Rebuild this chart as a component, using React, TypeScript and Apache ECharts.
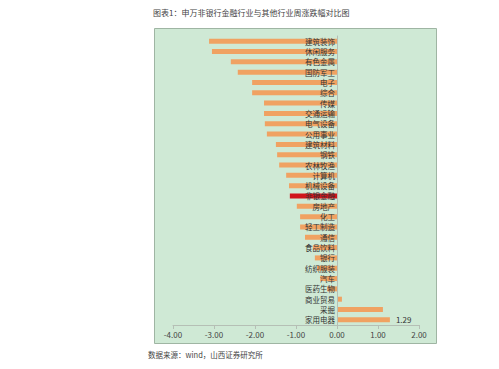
import React, { useEffect, useRef } from "react";
import * as echarts from "echarts";

const categories = [
  "建筑装饰", "休闲服务", "有色金属", "国防军工", "电子", "综合", "传媒", "交通运输",
  "电气设备", "公用事业", "建筑材料", "钢铁", "农林牧渔", "计算机", "机械设备", "非银金融",
  "房地产", "化工", "轻工制造", "通信", "食品饮料", "银行", "纺织服装", "汽车",
  "医药生物", "商业贸易", "采掘", "家用电器",
];
const values = [
  -3.12, -3.05, -2.59, -2.42, -2.07, -2.07, -1.78, -1.78,
  -1.76, -1.71, -1.49, -1.46, -1.41, -1.24, -1.17, -1.15,
  -0.98, -0.9, -0.9, -0.78, -0.59, -0.54, -0.49, -0.41,
  -0.24, 0.12, 1.12, 1.29,
];
const highlight = "非银金融";
const labeledCategory = "家用电器";
const titleText = "图表1：申万非银行金融行业与其他行业周涨跌幅对比图";
const sourceText = "数据来源：wind，山西证券研究所";

export default function App() {
  const ref = useRef<HTMLDivElement>(null);
  useEffect(() => {
    if (!ref.current) return;
    const chart = echarts.init(ref.current, undefined, { renderer: "svg" });
    const font = "'Noto Sans CJK SC', sans-serif";
    chart.setOption({
      animation: false,
      backgroundColor: "#ffffff",
      textStyle: { fontFamily: font },
      graphic: [
        {
          type: "rect",
          z: -10,
          shape: { x: 154.5, y: 28.5, width: 282, height: 315 },
          style: { fill: "#cfe9d5", stroke: "#9fb5a3", lineWidth: 1 },
        },
        {
          type: "text",
          x: 153,
          y: 8,
          style: { text: titleText, fill: "#444", font: `8px ${font}` },
        },
        {
          type: "text",
          x: 148,
          y: 351,
          style: { text: sourceText, fill: "#444", font: `7.5px ${font}` },
        },
      ],
      grid: { left: 173, width: 246, top: 36, height: 289, containLabel: false },
      xAxis: {
        type: "value",
        min: -4,
        max: 2,
        interval: 1,
        axisLine: { show: true, lineStyle: { color: "#b5bfb5" } },
        axisTick: { show: true, length: 4, lineStyle: { color: "#b5bfb5" } },
        splitLine: { show: false },
        axisLabel: {
          color: "#444",
          fontSize: 8,
          margin: 5,
          formatter: (v: number) => v.toFixed(2),
        },
      },
      yAxis: {
        type: "category",
        data: categories,
        inverse: true,
        offset: -164,
        axisLine: { show: true, onZero: false, lineStyle: { color: "#b5bfb5" } },
        axisTick: { show: false },
        axisLabel: { color: "#333", fontSize: 7.5, lineHeight: 8, margin: 2, interval: 0 },
        z: 5,
      },
      series: [
        {
          type: "bar",
          barWidth: 5,
          z: 2,
          data: values.map((v, i) => ({
            value: v,
            itemStyle: { color: categories[i] === highlight ? "#d0151b" : "#f0a262" },
            label: {
              show: categories[i] === labeledCategory,
              position: "right",
              formatter: (p: any) => Number(p.value).toFixed(2),
              color: "#333",
              fontSize: 8,
              distance: 6,
            },
          })),
        },
      ],
    });
    return () => chart.dispose();
  }, []);
  return (
    <div
      ref={ref}
      style={{ position: "absolute", left: 0, top: 0, width: 499, height: 369 }}
    />
  );
}
